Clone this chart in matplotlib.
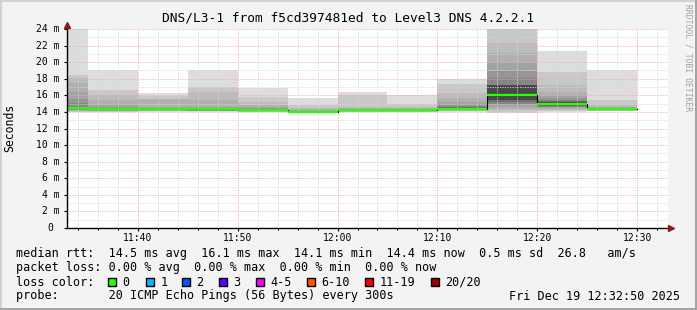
import matplotlib
matplotlib.use("Agg")
import matplotlib.pyplot as plt
import matplotlib.dates as mdates
import matplotlib.transforms as mtransforms
from matplotlib.patches import Rectangle
from datetime import datetime, timedelta

plt.rcParams['font.family'] = ['DejaVu Sans Mono']

# 5 minute slots (start times), the last one ends at 12:30
slot_start = ["11:30", "11:35", "11:40", "11:45", "11:50", "11:55",
              "12:00", "12:05", "12:10", "12:15", "12:20", "12:25"]
# median rtt per slot (ms)
median_ms = [14.5, 14.3, 14.3, 14.3, 14.25, 14.05, 14.2, 14.2, 14.4, 16.1, 15.0, 14.4]

# 20 sorted ping times per slot (ms), the smoke is drawn from these
pings_1130 = [13.95, 14.05, 14.1, 14.15, 14.2, 14.25, 14.3, 14.35, 14.4, 14.45,
              14.5, 14.55, 14.65, 15.05, 15.55, 16.45, 17.45, 18.05, 18.5, 26.0]
pings_1135 = [14.0, 14.05, 14.1, 14.12, 14.15, 14.18, 14.2, 14.22, 14.25, 14.28,
              14.32, 14.36, 14.42, 14.5, 14.65, 14.9, 15.45, 16.05, 16.65, 19.1]
pings_1140 = [14.02, 14.08, 14.12, 14.15, 14.18, 14.2, 14.22, 14.24, 14.27, 14.3,
              14.33, 14.36, 14.38, 14.4, 14.45, 14.55, 15.5, 15.6, 15.9, 16.25]
pings_1145 = [14.0, 14.06, 14.1, 14.12, 14.15, 14.17, 14.2, 14.22, 14.25, 14.28,
              14.31, 14.34, 14.38, 14.42, 14.5, 14.6, 15.4, 16.45, 17.0, 19.1]
pings_1150 = [13.98, 14.02, 14.05, 14.08, 14.1, 14.12, 14.15, 14.18, 14.2, 14.23,
              14.27, 14.3, 14.33, 14.38, 14.45, 14.55, 14.8, 15.2, 15.85, 16.85]
pings_1155 = [13.85, 13.88, 13.9, 13.92, 13.94, 13.96, 13.98, 14.0, 14.02, 14.04,
              14.06, 14.08, 14.1, 14.13, 14.17, 14.22, 14.3, 14.5, 14.8, 15.7]
pings_1200 = [13.98, 14.02, 14.05, 14.07, 14.09, 14.11, 14.13, 14.15, 14.17, 14.19,
              14.21, 14.23, 14.26, 14.29, 14.33, 14.38, 14.45, 14.55, 16.05, 16.45]
pings_1205 = [13.97, 14.01, 14.04, 14.06, 14.08, 14.1, 14.12, 14.14, 14.16, 14.18,
              14.2, 14.22, 14.24, 14.27, 14.31, 14.36, 14.42, 14.55, 14.95, 16.05]
pings_1210 = [14.05, 14.1, 14.15, 14.18, 14.21, 14.24, 14.27, 14.3, 14.34, 14.38,
              14.43, 14.5, 14.58, 14.7, 14.9, 15.2, 15.65, 16.3, 17.4, 18.0]
pings_1215 = [13.9, 14.0, 14.2, 14.4, 14.6, 14.8, 15.0, 15.2, 15.4, 16.0,
              16.2, 17.25, 17.3, 18.05, 18.9, 19.9, 21.1, 22.3, 24.5, 28.0]
pings_1220 = [14.05, 14.15, 14.25, 14.35, 14.45, 14.55, 14.65, 14.75, 14.85, 14.95,
              15.05, 15.15, 15.3, 15.45, 15.65, 15.9, 16.45, 17.25, 18.85, 21.35]
pings_1225 = [14.06, 14.12, 14.16, 14.2, 14.24, 14.27, 14.3, 14.32, 14.35, 14.37,
              14.39, 14.41, 14.43, 14.46, 14.5, 14.55, 14.65, 14.85, 15.45, 19.05]
pings = [pings_1130, pings_1135, pings_1140, pings_1145, pings_1150, pings_1155,
         pings_1200, pings_1205, pings_1210, pings_1215, pings_1220, pings_1225]

y_ticks = [0, 2, 4, 6, 8, 10, 12, 14, 16, 18, 20, 22, 24]
loss_labels = ["0", "1", "2", "3", "4-5", "6-10", "11-19", "20/20"]
loss_colors = ["#26ff00", "#00b8ff", "#0059ff", "#5e00ff", "#ff00ff",
               "#ff5500", "#ff0000", "#a10000"]
# grey level of each smoke band, outermost first
smoke_grey = [221, 200, 188, 176, 164, 150, 134, 110, 72, 55]

W, H = 697, 310
fig = plt.figure(figsize=(W / 100, H / 100), dpi=100)
fig.patch.set_facecolor('#f3f3f3')
ax = fig.add_axes([67 / W, 1 - 228 / H, (668 - 67) / W, (228 - 29) / H])
ax.set_facecolor('white')

day = datetime(2025, 12, 19)
starts = [day + timedelta(hours=int(s[:2]), minutes=int(s[3:])) for s in slot_start]
slot = timedelta(minutes=5)
ends = [t + slot for t in starts]
width = slot / timedelta(days=1)

# smoke: band k goes from ping k to ping 21-k, darker towards the middle
for k, g in enumerate(smoke_grey):
    lo = [p[k] for p in pings]
    hi = [p[19 - k] for p in pings]
    ax.bar(starts, [h - l for h, l in zip(hi, lo)], bottom=lo, width=width,
           align='edge', color='#%02x%02x%02x' % (g, g, g), linewidth=0,
           antialiased=False, zorder=1)

# median line
ax.step(starts + [ends[-1]], median_ms + [median_ms[-1]], where='post',
        color='black', lw=0.8, zorder=3)
ax.hlines(median_ms, starts, ends, colors=loss_colors[0], lw=1.6, zorder=4)

ax.set_xlim(datetime(2025, 12, 19, 11, 32, 56), datetime(2025, 12, 19, 12, 33, 4))
ax.set_ylim(0, 24)

ax.xaxis.set_major_locator(mdates.MinuteLocator(byminute=range(0, 60, 10)))
ax.xaxis.set_minor_locator(mdates.MinuteLocator(byminute=range(0, 60, 2)))
ax.xaxis.set_major_formatter(mdates.DateFormatter('%H:%M'))
ax.set_yticks(y_ticks)
ax.set_yticks(range(0, 25), minor=True)
ax.tick_params(axis='x', which='major', length=2, width=0.8, pad=1.5, labelsize=7)
ax.tick_params(axis='x', which='minor', length=1.5, width=0.8)
ax.tick_params(axis='y', which='major', length=2, width=0.8, labelleft=False)
ax.tick_params(axis='y', which='minor', length=0)

ax.set_axisbelow(False)
ax.grid(which='minor', color='#d6d6d6', lw=0.6, ls=(0, (1.5, 1.5)))
ax.grid(which='major', color='#f0a8a8', lw=0.6, ls=(0, (1.5, 1.5)))

for s in ['top', 'right']:
    ax.spines[s].set_visible(False)
for s in ['left', 'bottom']:
    ax.spines[s].set_linewidth(1)
    ax.spines[s].set_zorder(5)

# y tick labels, "0" has no unit so it sits one char left
ylab_tr = mtransforms.blended_transform_factory(ax.transAxes, ax.transData)
for v in y_ticks:
    lab = "%d m" % v if v else "0"
    off = -7 if v else -14
    ax.text(0, v, lab, fontsize=7, ha='right', va='center',
            transform=ylab_tr + mtransforms.ScaledTranslation(off / 100, 0, fig.dpi_scale_trans))

# axis arrows
arrow_c = '#8b1a1a'
ax.plot([0], [1], marker='^', ms=4, color=arrow_c, clip_on=False, zorder=6,
        transform=mtransforms.offset_copy(ax.transAxes, fig=fig, x=0, y=4, units='dots'))
ax.plot([1], [0], marker='>', ms=4, color=arrow_c, clip_on=False, zorder=6,
        transform=mtransforms.offset_copy(ax.transAxes, fig=fig, x=3, y=0, units='dots'))


def px(x, y):
    return x / W, 1 - y / H


fig.text(*px(347.5, 18), "DNS/L3-1 from f5cd397481ed to Level3 DNS 4.2.2.1",
         fontsize=9.3, ha='center', va='center')
fig.text(*px(10, 128), "Seconds", fontsize=8.3, rotation=90, ha='center', va='center')
fig.text(*px(688, 4), "RRDTOOL / TOBI OETIKER", fontsize=5.8, rotation=270,
         ha='center', va='top', color='#a0a0a0')

leg = dict(fontsize=8.5, ha='left', va='center')
fig.text(*px(16, 254), "median rtt:  14.5 ms avg  16.1 ms max  14.1 ms min  "
         "14.4 ms now  0.5 ms sd  26.8   am/s", **leg)
fig.text(*px(16, 268), "packet loss: 0.00 % avg  0.00 % max  0.00 % min  0.00 % now", **leg)
fig.text(*px(16, 282), "loss color:", **leg)
fig.text(*px(16, 296), "probe:       20 ICMP Echo Pings (56 Bytes) every 300s", **leg)
fig.text(*px(680, 296), "Fri Dec 19 12:32:50 2025", fontsize=8.5, ha='right', va='center')

box_x = [108, 146, 182, 219, 256, 307, 365, 431]
for bx, lab, c in zip(box_x, loss_labels, loss_colors):
    fig.add_artist(Rectangle(px(bx, 286), 8 / W, 8 / H, transform=fig.transFigure,
                             facecolor=c, edgecolor='black', lw=1))
    fig.text(*px(bx + 14.5, 282), lab, **leg)

# rrdtool style frame shading
fig.add_artist(Rectangle((0, 1 - 2 / H), 1, 2 / H, transform=fig.transFigure,
                         facecolor='#d2d2d2', lw=0))
fig.add_artist(Rectangle((0, 0), 2 / W, 1, transform=fig.transFigure,
                         facecolor='#d2d2d2', lw=0))
fig.add_artist(Rectangle((0, 0), 1, 2 / H, transform=fig.transFigure,
                         facecolor='#a4a4a4', lw=0))
fig.add_artist(Rectangle((1 - 2 / W, 0), 2 / W, 1, transform=fig.transFigure,
                         facecolor='#a4a4a4', lw=0))

fig.savefig("out.png", dpi=100, facecolor=fig.get_facecolor())
